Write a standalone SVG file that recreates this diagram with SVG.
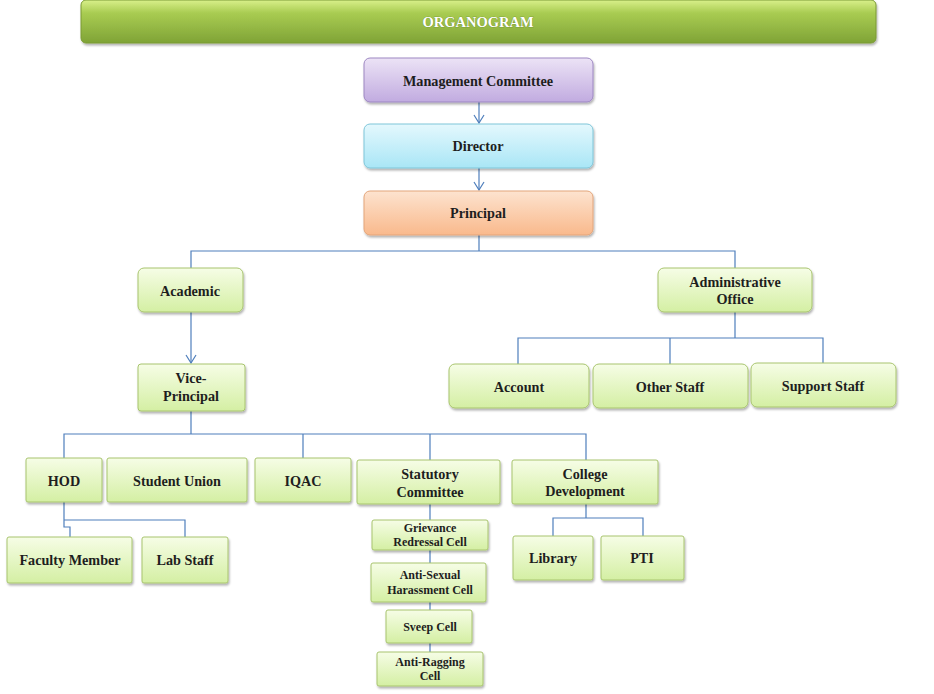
<svg xmlns="http://www.w3.org/2000/svg" width="934" height="694" viewBox="0 0 934 694">
<defs>
<linearGradient id="gTitle" x1="0" y1="0" x2="0" y2="1"><stop offset="0" stop-color="#d9f08a"/><stop offset="0.3" stop-color="#a9cc52"/><stop offset="1" stop-color="#7fa336"/></linearGradient>
<linearGradient id="gPurple" x1="0" y1="0" x2="0" y2="1"><stop offset="0" stop-color="#ece3f6"/><stop offset="1" stop-color="#c1abe0"/></linearGradient>
<linearGradient id="gCyan" x1="0" y1="0" x2="0" y2="1"><stop offset="0" stop-color="#e4f8fd"/><stop offset="1" stop-color="#a9e6f6"/></linearGradient>
<linearGradient id="gOrange" x1="0" y1="0" x2="0" y2="1"><stop offset="0" stop-color="#fde3cf"/><stop offset="1" stop-color="#f9b98c"/></linearGradient>
<linearGradient id="gGreen" x1="0" y1="0" x2="0" y2="1"><stop offset="0" stop-color="#f6fde6"/><stop offset="1" stop-color="#d4efa3"/></linearGradient>
<filter id="sh" x="-10%" y="-10%" width="130%" height="140%"><feDropShadow dx="1" dy="2" stdDeviation="1.2" flood-color="#000" flood-opacity="0.3"/></filter>
<marker id="arr" markerWidth="10" markerHeight="12" refX="9" refY="6" orient="auto" markerUnits="userSpaceOnUse" viewBox="0 0 10 12">
<path d="M1,1 L9,6 L1,11" fill="none" stroke="#4f7fbc" stroke-width="1.2"/>
</marker>
</defs>
<style>
.g{fill:url(#gGreen);stroke:#a8c46e;stroke-width:1;filter:url(#sh)}
.t{font-family:"Liberation Serif","Times New Roman",serif;font-weight:bold;font-size:14.2px;fill:#1e1e1e;text-anchor:middle}
.s{font-size:12px}
.c{fill:none;stroke:#4f7fbc;stroke-width:1.2}
</style>
<rect width="934" height="694" fill="#ffffff"/>
<g id="title">
<rect x="81" y="0" width="795" height="43" rx="5" fill="url(#gTitle)" stroke="#7a9a35" filter="url(#sh)"/>
<text x="478" y="27" class="t" style="fill:#ffffff;font-size:14.5px;stroke:#6b8a2a;stroke-width:0.6;paint-order:stroke">ORGANOGRAM</text>
</g>
<g id="connectors">
<path class="c" d="M479,102 V123" marker-end="url(#arr)"/>
<path class="c" d="M479,168 V190" marker-end="url(#arr)"/>
<path class="c" d="M479,235 V251 M191,268 V251 H735 V268"/>
<path class="c" d="M191,312 V363" marker-end="url(#arr)"/>
<path class="c" d="M735,312 V338 M518,364 V338 H823 V363 M670,338 V364"/>
<path class="c" d="M191,411 V434 M64,458 V434 H586 V460 M303,434 V458 M430,434 V460"/>
<path class="c" d="M64,502 V520 H185 V537 M64,520 V527 H70 V537"/>
<path class="c" d="M430,504 V520 M430,550 V563 M430,602 V610 M430,643 V652"/>
<path class="c" d="M553,536 V518 H643 V536 M586,504 V518"/>
</g>
<g id="management"><rect x="364" y="58" width="229" height="44" rx="6" fill="url(#gPurple)" stroke="#9d87c2" filter="url(#sh)"/><text x="478" y="86" class="t">Management Committee</text></g>
<g id="director"><rect x="364" y="124" width="229" height="44" rx="6" fill="url(#gCyan)" stroke="#7fc6d9" filter="url(#sh)"/><text x="478" y="151" class="t">Director</text></g>
<g id="principal"><rect x="364" y="191" width="229" height="44" rx="6" fill="url(#gOrange)" stroke="#e3a57a" filter="url(#sh)"/><text x="478" y="218" class="t">Principal</text></g>
<g id="academic"><rect x="138" y="268" width="105" height="44" rx="6" class="g"/><text x="190" y="296" class="t">Academic</text></g>
<g id="admin"><rect x="658" y="268" width="154" height="44" rx="6" class="g"/><text x="735" y="287" class="t">Administrative</text><text x="735" y="304" class="t">Office</text></g>
<g id="vice"><rect x="138" y="364" width="107" height="47" rx="3" class="g"/><text x="191" y="383" class="t">Vice-</text><text x="191" y="401" class="t">Principal</text></g>
<g id="account"><rect x="449" y="364" width="140" height="44" rx="6" class="g"/><text x="519" y="392" class="t">Account</text></g>
<g id="other"><rect x="593" y="364" width="155" height="44" rx="6" class="g"/><text x="670" y="392" class="t">Other Staff</text></g>
<g id="support"><rect x="751" y="363" width="145" height="44" rx="6" class="g"/><text x="823" y="391" class="t">Support Staff</text></g>
<g id="hod"><rect x="26" y="458" width="76" height="44" rx="2" class="g"/><text x="64" y="486" class="t">HOD</text></g>
<g id="union"><rect x="107" y="458" width="140" height="44" rx="2" class="g"/><text x="177" y="486" class="t">Student Union</text></g>
<g id="iqac"><rect x="255" y="458" width="96" height="44" rx="2" class="g"/><text x="303" y="486" class="t">IQAC</text></g>
<g id="statutory"><rect x="357" y="460" width="143" height="44" rx="2" class="g"/><text x="430" y="479" class="t">Statutory</text><text x="430" y="497" class="t">Committee</text></g>
<g id="college"><rect x="512" y="460" width="146" height="44" rx="2" class="g"/><text x="585" y="479" class="t">College</text><text x="585" y="496" class="t">Development</text></g>
<g id="faculty"><rect x="7" y="537" width="125" height="46" rx="2" class="g"/><text x="70" y="565" class="t">Faculty Member</text></g>
<g id="lab"><rect x="142" y="537" width="86" height="46" rx="2" class="g"/><text x="185" y="565" class="t">Lab Staff</text></g>
<g id="grievance"><rect x="372" y="520" width="116" height="30" rx="2" class="g"/><text x="430" y="532" class="t s">Grievance</text><text x="430" y="546" class="t s">Redressal Cell</text></g>
<g id="antisexual"><rect x="371" y="563" width="115" height="39" rx="2" class="g"/><text x="430" y="579" class="t s">Anti-Sexual</text><text x="430" y="594" class="t s">Harassment Cell</text></g>
<g id="sveep"><rect x="386" y="610" width="86" height="33" rx="2" class="g"/><text x="430" y="631" class="t s">Sveep Cell</text></g>
<g id="antiragging"><rect x="377" y="652" width="106" height="34" rx="2" class="g"/><text x="430" y="666" class="t s">Anti-Ragging</text><text x="430" y="680" class="t s">Cell</text></g>
<g id="library"><rect x="513" y="536" width="80" height="44" rx="2" class="g"/><text x="553" y="563" class="t">Library</text></g>
<g id="pti"><rect x="601" y="536" width="83" height="44" rx="2" class="g"/><text x="642" y="563" class="t">PTI</text></g>
</svg>
